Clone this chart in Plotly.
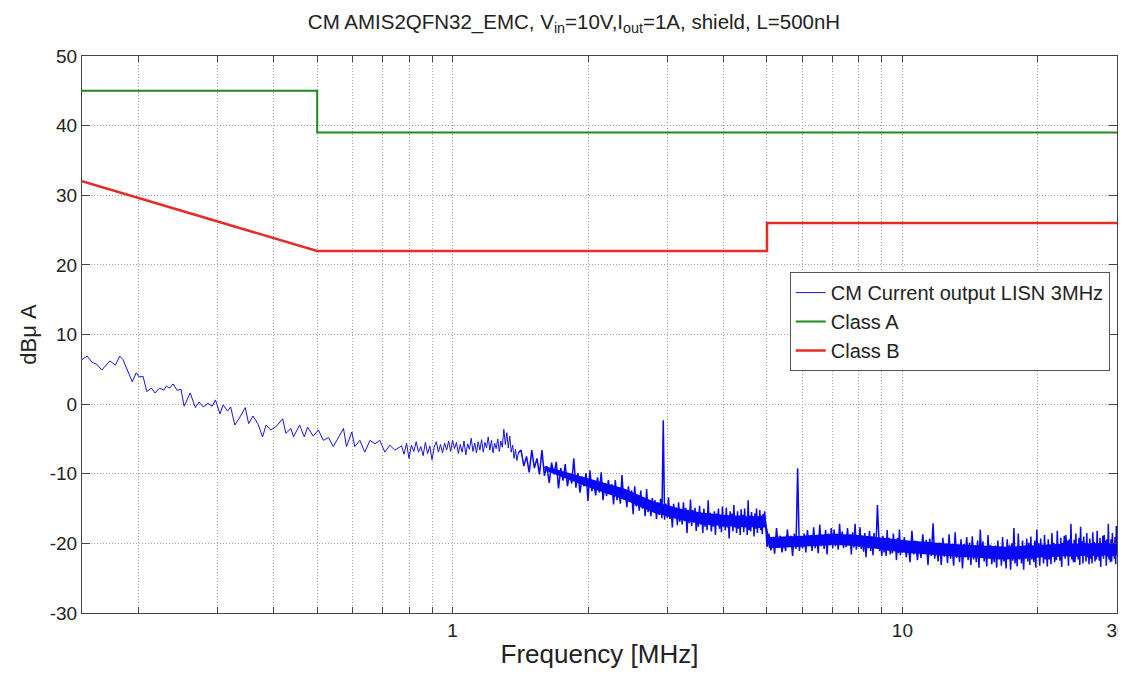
import math
import plotly.graph_objects as go

# ---------------- data ----------------
# Measured CM current (dBuA) vs frequency (MHz), read segment by segment
FREQ_A = [0.15, 0.154, 0.158, 0.162, 0.166, 0.173, 0.178, 0.182, 0.185, 0.194,
          0.198, 0.201, 0.205, 0.209, 0.214, 0.218, 0.223, 0.228, 0.231, 0.235,
          0.239, 0.244, 0.249, 0.253, 0.261, 0.268, 0.273, 0.279, 0.286, 0.292,
          0.297, 0.304, 0.309, 0.316, 0.321, 0.328, 0.335, 0.346, 0.352, 0.36,
          0.369, 0.378, 0.385, 0.394, 0.404, 0.419, 0.426, 0.437, 0.443, 0.457,
          0.468, 0.476, 0.49, 0.503, 0.516, 0.53, 0.543, 0.557, 0.572, 0.581,
          0.597, 0.606, 0.622, 0.638, 0.655, 0.672, 0.689, 0.707, 0.725, 0.744,
          0.763]
LEVEL_A = [6.4, 6.9, 6.0, 5.7, 4.9, 6.2, 5.6, 6.9, 6.4, 3.2,
           4.5, 3.9, 4.0, 1.8, 2.3, 1.6, 2.3, 2.0, 2.6, 2.3,
           2.9, 2.0, 2.1, -0.3, 1.6, -0.5, 0.3, -0.4, 0.1, -0.3,
           0.6, -1.4, -0.1, -1.0, -0.4, -3.0, -2.1, -0.5, -2.8, -1.7,
           -2.8, -4.7, -3.0, -3.7, -3.3, -2.1, -4.2, -3.5, -4.7, -3.0,
           -4.7, -3.3, -4.6, -3.7, -5.2, -4.8, -6.1, -4.9, -3.5, -6.1,
           -4.0, -6.1, -5.2, -6.9, -5.2, -5.7, -5.2, -6.9, -5.9, -6.6,
           -6.1]

FREQ_B = [0.77, 0.78, 0.79, 0.80, 0.81, 0.82, 0.83, 0.84, 0.85, 0.86,
          0.87, 0.88, 0.89, 0.90, 0.91, 0.92, 0.93, 0.94, 0.95, 0.96,
          0.97, 0.98, 0.99, 1.00, 1.01, 1.02, 1.03, 1.04, 1.05, 1.06,
          1.07, 1.08, 1.09, 1.10, 1.11, 1.12, 1.13, 1.14, 1.15, 1.16,
          1.17, 1.18, 1.19, 1.20, 1.21, 1.22, 1.23, 1.24, 1.25, 1.26,
          1.27, 1.28, 1.29, 1.30, 1.31, 1.32, 1.33, 1.34, 1.35, 1.36,
          1.37, 1.38, 1.39, 1.40]
LEVEL_B = [-6.0, -7.2, -5.6, -7.8, -5.9, -6.8, -5.4, -6.9, -6.1, -7.4,
           -5.5, -7.1, -6.0, -8.0, -6.2, -5.4, -6.9, -5.8, -7.0, -5.6,
           -6.6, -5.3, -6.8, -5.2, -6.4, -5.5, -7.1, -5.8, -6.9, -5.3,
           -7.3, -5.7, -6.5, -4.9, -6.8, -5.6, -7.0, -5.4, -6.6, -5.1,
           -6.9, -5.5, -6.3, -4.7, -6.6, -5.2, -7.0, -5.6, -6.4, -5.0,
           -6.8, -5.3, -6.2, -3.6, -5.8, -4.1, -6.3, -4.6, -6.9, -5.9,
           -7.8, -6.5, -8.1, -7.0]

FREQ_C = [1.42, 1.44, 1.46, 1.48, 1.50, 1.52, 1.54, 1.56, 1.58, 1.60,
          1.62, 1.64, 1.66, 1.68, 1.70, 1.72, 1.74, 1.76, 1.78, 1.80,
          1.82, 1.84, 1.86, 1.88, 1.90, 1.92, 1.94, 1.96, 1.98, 2.00,
          2.02, 2.04, 2.06, 2.08, 2.10, 2.12, 2.14, 2.16, 2.18, 2.20,
          2.22, 2.24, 2.26, 2.28, 2.30, 2.32, 2.34, 2.36, 2.38, 2.40,
          2.42, 2.44, 2.46, 2.48, 2.50, 2.52, 2.54, 2.56, 2.58, 2.60,
          2.62, 2.64, 2.66, 2.68, 2.70, 2.72, 2.74, 2.76, 2.78, 2.80,
          2.82, 2.84, 2.86, 2.88, 2.90, 2.92, 2.94, 2.96, 2.98, 3.00,
          3.02, 3.04, 3.06, 3.08, 3.10, 3.12, 3.14, 3.16, 3.18, 3.20,
          3.22, 3.24, 3.26, 3.28, 3.30, 3.32, 3.34, 3.36, 3.38, 3.40,
          3.42, 3.44, 3.46, 3.48, 3.50, 3.52, 3.54, 3.56, 3.58, 3.60,
          3.62, 3.64, 3.66, 3.68, 3.70, 3.72, 3.74, 3.76, 3.78, 3.80,
          3.82, 3.84, 3.86, 3.88, 3.90, 3.92, 3.94, 3.96, 3.98, 4.00,
          4.02, 4.04, 4.06, 4.08, 4.10, 4.12, 4.14, 4.16, 4.18, 4.20,
          4.22, 4.24, 4.26, 4.28, 4.30, 4.32, 4.34, 4.36, 4.38, 4.40,
          4.42, 4.44, 4.46, 4.48, 4.50, 4.52, 4.54, 4.56, 4.58, 4.60,
          4.62, 4.64, 4.66, 4.68, 4.70, 4.72, 4.74, 4.76, 4.78, 4.80,
          4.82, 4.84, 4.86, 4.88, 4.90, 4.92, 4.94, 4.96, 4.98, 5.00]
LEVEL_C = [-6.6, -8.9, -7.5, -9.8, -6.6, -9.2, -7.8, -10.1, -6.6, -10.3,
           -8.9, -11.3, -8.4, -10.1, -8.3, -12.1, -9.2, -11.0, -8.6, -11.8,
           -10.0, -11.4, -7.8, -12.0, -9.9, -12.7, -10.4, -11.8, -9.9, -13.9,
           -9.5, -12.5, -11.3, -13.1, -10.5, -12.7, -9.8, -13.8, -11.4, -13.2,
           -10.9, -12.9, -11.5, -14.4, -10.9, -13.8, -12.2, -14.3, -10.2, -13.7,
           -12.2, -14.8, -11.8, -14.0, -12.4, -15.8, -11.8, -14.7, -13.4, -15.3,
           -12.4, -15.0, -13.6, -16.1, -12.2, -15.5, -13.8, -16.1, -13.5, -15.4,
           -13.8, -16.5, -14.1, -15.9, -13.6, -16.4, -2.3, -16.6, -14.3, -16.3,
           -13.4, -16.5, -15.0, -17.7, -14.3, -16.4, -14.9, -17.4, -14.1, -16.9,
           -15.3, -17.3, -14.1, -16.8, -14.9, -18.5, -15.2, -17.1, -13.7, -17.5,
           -15.2, -17.0, -14.9, -18.2, -15.8, -17.6, -14.6, -17.3, -15.7, -18.5,
           -15.0, -17.6, -15.8, -18.1, -13.8, -17.4, -15.6, -18.3, -16.1, -17.6,
           -15.4, -18.8, -15.7, -17.2, -15.0, -17.9, -16.2, -18.4, -14.7, -17.6,
           -16.0, -18.1, -14.9, -17.7, -16.2, -19.3, -15.4, -17.5, -15.7, -18.3,
           -14.5, -17.7, -16.2, -18.5, -15.4, -17.9, -16.0, -18.8, -15.1, -17.4,
           -15.9, -18.4, -15.0, -17.7, -16.4, -18.8, -13.8, -18.1, -16.0, -18.3,
           -15.5, -17.6, -16.1, -19.0, -15.7, -17.9, -15.0, -18.5, -16.3, -17.8,
           -15.2, -18.1, -16.0, -18.7, -15.8, -17.7, -15.4, -16.8, -18.6, -20.5]

FREQ_D = [5.05, 5.10, 5.15, 5.20, 5.25, 5.30, 5.35, 5.40, 5.45, 5.50,
          5.55, 5.60, 5.65, 5.70, 5.75, 5.80, 5.85, 5.90, 5.95, 6.00,
          6.05, 6.10, 6.15, 6.20, 6.25, 6.30, 6.35, 6.40, 6.45, 6.50,
          6.55, 6.60, 6.65, 6.70, 6.75, 6.80, 6.85, 6.90, 6.95, 7.00,
          7.05, 7.10, 7.15, 7.20, 7.25, 7.30, 7.35, 7.40, 7.45, 7.50,
          7.55, 7.60, 7.65, 7.70, 7.75, 7.80, 7.85, 7.90, 7.95, 8.00,
          8.05, 8.10, 8.15, 8.20, 8.25, 8.30, 8.35, 8.40, 8.45, 8.50,
          8.55, 8.60, 8.65, 8.70, 8.75, 8.80, 8.85, 8.90, 8.95, 9.00,
          9.05, 9.10, 9.15, 9.20, 9.25, 9.30, 9.35, 9.40, 9.45, 9.50,
          9.55, 9.60, 9.65, 9.70, 9.75, 9.80, 9.85, 9.90, 9.95, 10.00]
LEVEL_D = [-18.6, -21.0, -19.2, -21.5, -17.8, -20.7, -18.9, -21.3, -19.4, -21.1,
           -18.0, -20.4, -18.9, -21.8, -18.6, -20.8, -9.2, -21.1, -19.2, -20.7,
           -18.6, -21.3, -18.1, -20.3, -18.8, -21.1, -17.7, -20.7, -19.2, -21.4,
           -17.3, -20.4, -18.9, -20.8, -18.1, -21.6, -18.6, -20.3, -17.8, -20.7,
           -18.0, -20.4, -18.6, -20.9, -17.2, -20.1, -18.3, -20.7, -18.8, -20.5,
           -17.8, -20.2, -18.7, -21.6, -18.4, -20.6, -17.2, -20.9, -19.0, -20.5,
           -17.7, -20.8, -19.3, -21.2, -18.5, -22.0, -19.0, -20.7, -18.2, -21.1,
           -19.0, -21.7, -18.5, -20.7, -19.2, -14.5, -18.1, -21.1, -19.6, -21.8,
           -18.9, -21.3, -19.5, -21.8, -18.1, -21.0, -19.2, -21.6, -19.7, -21.4,
           -18.6, -21.0, -19.5, -22.4, -19.2, -21.4, -18.0, -21.7, -19.8, -21.3]

FREQ_E = [10.1, 10.2, 10.3, 10.4, 10.5, 10.6, 10.7, 10.8, 10.9, 11.0,
          11.1, 11.2, 11.3, 11.4, 11.5, 11.6, 11.7, 11.8, 11.9, 12.0,
          12.1, 12.2, 12.3, 12.4, 12.5, 12.6, 12.7, 12.8, 12.9, 13.0,
          13.1, 13.2, 13.3, 13.4, 13.5, 13.6, 13.7, 13.8, 13.9, 14.0,
          14.1, 14.2, 14.3, 14.4, 14.5, 14.6, 14.7, 14.8, 14.9, 15.0,
          15.1, 15.2, 15.3, 15.4, 15.5, 15.6, 15.7, 15.8, 15.9, 16.0,
          16.1, 16.2, 16.3, 16.4, 16.5, 16.6, 16.7, 16.8, 16.9, 17.0,
          17.1, 17.2, 17.3, 17.4, 17.5, 17.6, 17.7, 17.8, 17.9, 18.0,
          18.1, 18.2, 18.3, 18.4, 18.5, 18.6, 18.7, 18.8, 18.9, 19.0,
          19.1, 19.2, 19.3, 19.4, 19.5, 19.6, 19.7, 19.8, 19.9, 20.0,
          20.1, 20.2, 20.3, 20.4, 20.5, 20.6, 20.7, 20.8, 20.9, 21.0,
          21.1, 21.2, 21.3, 21.4, 21.5, 21.6, 21.7, 21.8, 21.9, 22.0,
          22.1, 22.2, 22.3, 22.4, 22.5, 22.6, 22.7, 22.8, 22.9, 23.0,
          23.1, 23.2, 23.3, 23.4, 23.5, 23.6, 23.7, 23.8, 23.9, 24.0,
          24.1, 24.2, 24.3, 24.4, 24.5, 24.6, 24.7, 24.8, 24.9, 25.0,
          25.1, 25.2, 25.3, 25.4, 25.5, 25.6, 25.7, 25.8, 25.9, 26.0,
          26.1, 26.2, 26.3, 26.4, 26.5, 26.6, 26.7, 26.8, 26.9, 27.0,
          27.1, 27.2, 27.3, 27.4, 27.5, 27.6, 27.7, 27.8, 27.9, 28.0,
          28.1, 28.2, 28.3, 28.4, 28.5, 28.6, 28.7, 28.8, 28.9, 29.0,
          29.1, 29.2, 29.3, 29.4, 29.5, 29.6, 29.7, 29.8, 29.9, 30.0]
LEVEL_E = [-19.1, -22.0, -19.9, -22.7, -18.2, -21.6, -19.6, -22.4, -20.1, -22.1,
           -18.7, -21.5, -19.5, -23.1, -19.3, -21.8, -17.1, -22.2, -20.0, -22.6,
           -19.9, -23.1, -19.2, -21.9, -20.1, -22.8, -18.7, -22.2, -20.5, -23.2,
           -18.4, -22.1, -20.4, -22.7, -19.4, -23.6, -20.1, -22.0, -19.1, -22.4,
           -19.9, -23.1, -19.0, -22.3, -20.6, -22.7, -19.6, -23.5, -18.0, -22.0,
           -19.7, -22.6, -20.5, -23.3, -18.8, -22.2, -20.2, -23.0, -20.7, -22.7,
           -20.3, -23.5, -19.6, -22.3, -20.5, -23.2, -19.1, -22.6, -20.9, -23.6,
           -19.4, -22.2, -20.2, -23.8, -20.0, -22.5, -17.8, -22.9, -20.7, -23.3,
           -18.6, -22.3, -20.6, -22.9, -19.6, -23.8, -20.3, -22.2, -19.3, -22.6,
           -19.9, -23.1, -19.0, -22.3, -20.6, -22.7, -19.6, -23.5, -18.0, -22.0,
           -20.0, -23.2, -19.3, -22.0, -20.2, -22.9, -18.8, -22.3, -20.6, -23.3,
           -19.4, -22.3, -20.2, -23.0, -18.5, -21.9, -19.9, -22.7, -20.4, -22.4,
           -18.2, -21.9, -20.2, -22.5, -19.2, -23.4, -19.9, -21.8, -18.9, -22.2,
           -18.8, -21.6, -19.6, -23.2, -19.4, -21.9, -17.2, -22.3, -20.1, -22.7,
           -19.5, -22.7, -18.6, -21.9, -20.2, -22.3, -19.2, -23.1, -17.6, -21.6,
           -19.7, -22.9, -19.0, -21.7, -19.9, -22.6, -18.5, -22.0, -20.3, -23.0,
           -19.3, -22.2, -20.1, -22.9, -18.4, -21.8, -19.8, -22.6, -20.3, -22.3,
           -18.2, -21.9, -20.2, -22.5, -19.2, -23.4, -19.9, -21.8, -18.9, -22.2,
           -18.8, -21.6, -19.6, -23.2, -19.4, -21.9, -17.2, -22.3, -20.1, -22.7,
           -19.4, -22.6, -18.5, -21.8, -20.1, -22.2, -19.1, -23.0, -17.5, -21.5]

# Solid core of the dense noise band (upper / lower edge of the filled-looking part)
CORE_FREQ = [1.6, 2.0, 2.4, 2.8, 3.2, 3.6, 4.0, 4.5, 4.95,
             5.05, 6.0, 7.0, 8.0, 10.0, 13.0, 17.0, 22.0, 30.0]
CORE_UPPER = [-8.9, -10.7, -12.1, -14.0, -15.0, -15.6, -15.9, -16.1, -16.1,
              -19.1, -18.9, -18.6, -18.8, -19.5, -20.1, -20.5, -20.1, -19.9]
CORE_LOWER = [-9.5, -11.9, -13.7, -15.6, -16.6, -17.2, -17.5, -17.7, -17.7,
              -20.7, -20.5, -20.2, -20.4, -21.3, -21.9, -22.3, -21.9, -21.7]

# Limit lines
CLASS_A_FREQ = [0.15, 0.5, 0.5, 30]
CLASS_A_LEVEL = [45, 45, 39, 39]
CLASS_B_FREQ = [0.15, 0.5, 5, 5, 30]
CLASS_B_LEVEL = [32, 22, 22, 26, 26]

# Axes
X_TICKS = [0.2, 0.3, 0.4, 0.5, 0.6, 0.7, 0.8, 0.9, 1, 2, 3, 4, 5, 6, 7, 8, 9, 10, 20, 30]
X_TICK_TEXT = ["", "", "", "", "", "", "", "", "1", "", "", "", "", "", "", "", "", "10", "", "30"]
Y_TICKS = [-30, -20, -10, 0, 10, 20, 30, 40, 50]
Y_TICK_TEXT = ["-30", "-20", "-10", "0", "10", "20", "30", "40", "50"]
X_RANGE = [0.15, 30]
Y_RANGE = [-30, 50]

TITLE = "CM AMIS2QFN32_EMC, V<sub>in</sub>=10V,I<sub>out</sub>=1A, shield, L=500nH"

# ---------------- figure ----------------
# sparse low-frequency part and dense high-frequency part of the same measurement
freq_low = FREQ_A + FREQ_B
level_low = LEVEL_A + LEVEL_B
freq_high = FREQ_B[-1:] + FREQ_C + FREQ_D + FREQ_E
level_high = LEVEL_B[-1:] + LEVEL_C + LEVEL_D + LEVEL_E

FONT = "Liberation Sans, Arial, Helvetica, sans-serif"
BLUE = "#1414dc"
DENSE_BLUE = "#0808f4"

fig = go.Figure()
fig.add_trace(go.Scatter(x=freq_low, y=level_low, mode="lines", name="CM Current output LISN 3MHz",
                         legendgroup="cm", line=dict(color=BLUE, width=1)))
fig.add_trace(go.Scatter(x=CORE_FREQ, y=CORE_LOWER, mode="lines", legendgroup="cm", showlegend=False,
                         line=dict(width=0, color=DENSE_BLUE), hoverinfo="skip"))
fig.add_trace(go.Scatter(x=CORE_FREQ, y=CORE_UPPER, mode="lines", legendgroup="cm", showlegend=False,
                         line=dict(width=0, color=DENSE_BLUE), fill="tonexty", fillcolor=DENSE_BLUE,
                         hoverinfo="skip"))
fig.add_trace(go.Scatter(x=freq_high, y=level_high, mode="lines", name="CM Current output LISN 3MHz",
                         legendgroup="cm", showlegend=False,
                         line=dict(color=DENSE_BLUE, width=1.5, simplify=False)))
fig.add_trace(go.Scatter(x=CLASS_A_FREQ, y=CLASS_A_LEVEL, mode="lines", name="Class A",
                         line=dict(color="#1f8a1f", width=2)))
fig.add_trace(go.Scatter(x=CLASS_B_FREQ, y=CLASS_B_LEVEL, mode="lines", name="Class B",
                         line=dict(color="#e42b24", width=2.5)))

axis_common = dict(
    showline=True, linecolor="#444444", linewidth=1, mirror="ticks",
    ticks="inside", tickcolor="#444444", automargin=False,
    showgrid=True, gridcolor="#a0a0a0", griddash="1px,2px", gridwidth=1,
    zeroline=False, tickfont=dict(size=19, color="#222222", family=FONT),
    ticklabeloverflow="allow",
)

fig.update_xaxes(type="log", range=[math.log10(X_RANGE[0]), math.log10(X_RANGE[1])],
                 tickmode="array", tickvals=X_TICKS, ticktext=X_TICK_TEXT, ticklen=6,
                 title=dict(text="Frequency [MHz]", font=dict(size=26, color="#222222", family=FONT),
                            standoff=5),
                 **axis_common)
fig.update_yaxes(range=Y_RANGE, tickmode="array", tickvals=Y_TICKS, ticktext=Y_TICK_TEXT, ticklen=8,
                 title=dict(text="dBμ A", font=dict(size=22, color="#222222", family=FONT),
                            standoff=7),
                 **axis_common)

# The page body adds an 8 px offset, so the figure is 8 px smaller on each axis
fig.update_layout(
    width=1118, height=666,
    margin=dict(l=74, r=9, t=48, b=61),
    paper_bgcolor="white", plot_bgcolor="white",
    font=dict(family=FONT, color="#222222"),
    title=dict(text=TITLE, x=566 / 1118, xanchor="center", xref="container",
               y=1 - 14 / 666, yanchor="middle", font=dict(size=20.5, color="#222222")),
    showlegend=True,
    legend=dict(x=0.993, xanchor="right", y=0.612, yanchor="top",
                bordercolor="#555555", borderwidth=1, bgcolor="white",
                font=dict(size=20, color="#222222"), itemwidth=30, tracegroupgap=0),
)

fig.write_html("out.html")
